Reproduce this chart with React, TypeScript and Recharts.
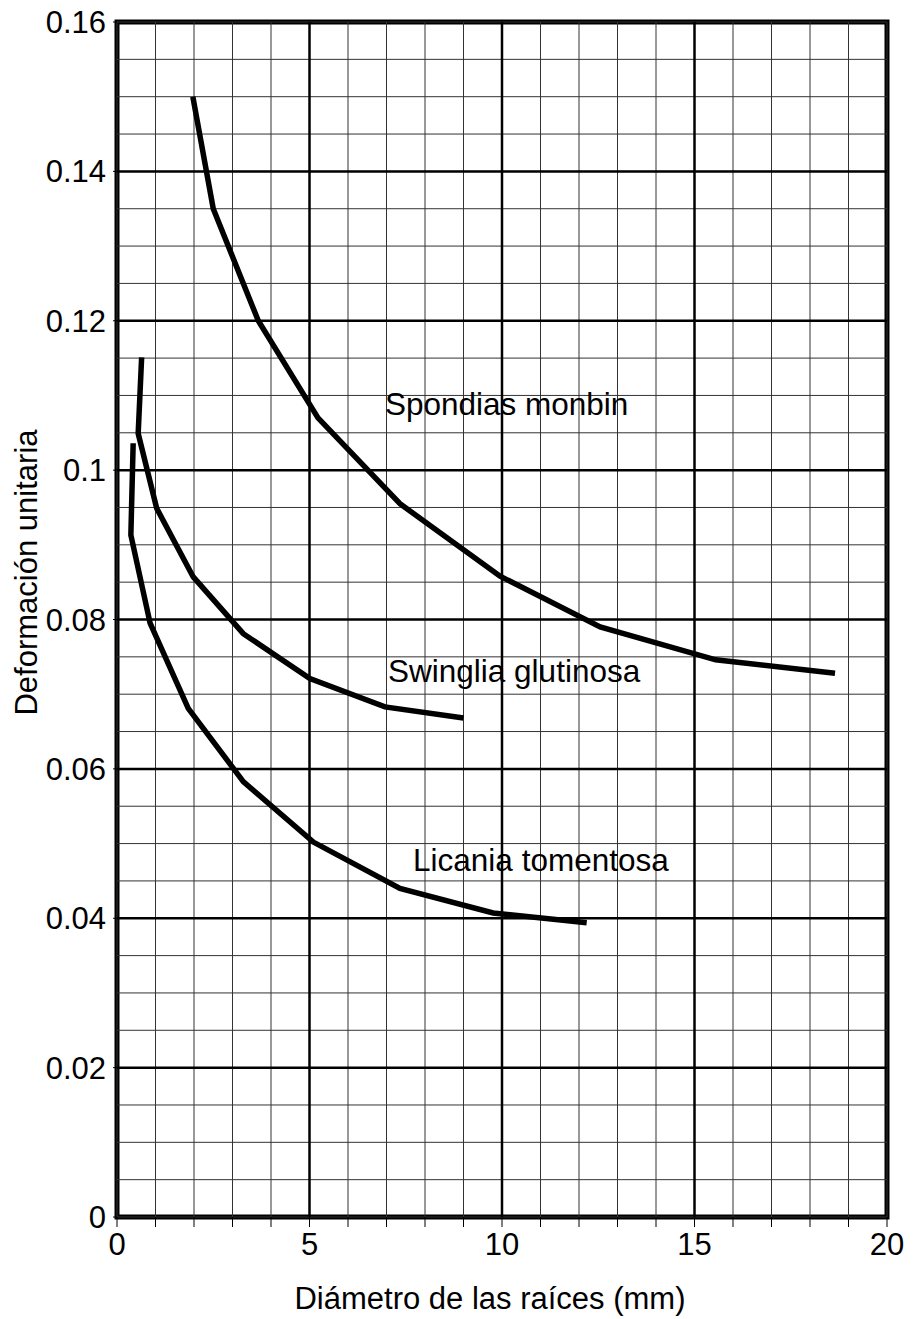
import { LineChart, Line, XAxis, YAxis, ReferenceLine, ReferenceArea, ReferenceDot, Label } from 'recharts'

// values (diameter in mm, unit strain)
const spondiasX = [1.97, 2.5, 3.67, 5.22, 7.35, 9.95, 12.55, 15.55, 18.65]
const spondiasY = [0.15, 0.135, 0.12, 0.107, 0.0955, 0.0858, 0.079, 0.0746, 0.0728]

const swingliaX = [0.64, 0.55, 1.03, 1.98, 3.28, 5.01, 6.96, 9.0]
const swingliaY = [0.1151, 0.1049, 0.0949, 0.0857, 0.0781, 0.0721, 0.0683, 0.0668]

const licaniaX = [0.42, 0.36, 0.86, 1.85, 3.28, 5.1, 7.35, 9.77, 12.2]
const licaniaY = [0.1036, 0.0913, 0.0795, 0.0681, 0.0583, 0.0502, 0.044, 0.0407, 0.0394]

const seriesNames = ['Spondias monbin', 'Swinglia glutinosa', 'Licania tomentosa']
const seriesLabelX = [6.96, 7.04, 7.69]
const seriesLabelY = [0.1074, 0.0716, 0.0463]

const xLabelTicks = [0, 5, 10, 15, 20]
const xTickLabels = ['0', '5', '10', '15', '20']
const yTicks = [0, 0.02, 0.04, 0.06, 0.08, 0.1, 0.12, 0.14, 0.16]
const yTickLabels = ['0', '0.02', '0.04', '0.06', '0.08', '0.1', '0.12', '0.14', '0.16']

const xTitle = 'Diámetro de las raíces (mm)'
const yTitle = 'Deformación unitaria'

// grid positions (graph paper: 1 mm and 0.005 minor, 5 mm and 0.02 major)
const xMinor = Array.from({ length: 21 }, (_, i) => i)
const xMajor = [5, 10, 15]
const yMinor = Array.from({ length: 33 }, (_, i) => +(i * 0.005).toFixed(3))
const yMajor = yTicks.slice(1, -1)

const toPoints = (xs: number[], ys: number[]) => xs.map((x, i) => ({ x, y: ys[i] }))
const series = [
  toPoints(spondiasX, spondiasY),
  toPoints(swingliaX, swingliaY),
  toPoints(licaniaX, licaniaY),
]

const FONT = '"Liberation Sans", Arial, sans-serif'

const YTitle = ({ viewBox }: any) => {
  const cx = viewBox.x + 26
  const cy = viewBox.y + viewBox.height / 2 - 47
  return (
    <text x={cx} y={cy} transform={`rotate(-90 ${cx} ${cy})`} textAnchor="middle" dominantBaseline="central"
      fontSize={31} fontFamily={FONT} fill="#000">
      {yTitle}
    </text>
  )
}

const XTitle = ({ viewBox }: any) => (
  <text x={viewBox.x + viewBox.width / 2 - 12} y={viewBox.y + 92} textAnchor="middle"
    fontSize={31} fontFamily={FONT} fill="#000">
    {xTitle}
  </text>
)

const seriesLabel = (name: string) => ({ viewBox }: any) => (
  <text x={viewBox.x} y={viewBox.y} textAnchor="start" fontSize={31.5} fontFamily={FONT} fill="#000">
    {name}
  </text>
)

export default function App() {
  return (
    <div style={{ position: 'absolute', left: 0, top: 0, width: 918, height: 1319, background: '#fff' }}>
      <LineChart width={918} height={1319} margin={{ top: 22, right: 31, bottom: 0, left: 0 }} style={{ fontFamily: FONT }}>
        <XAxis
          type="number"
          dataKey="x"
          domain={[0, 20]}
          ticks={xMinor}
          interval={0}
          height={102}
          axisLine={false}
          tickSize={10}
          tickMargin={6}
          tickLine={{ stroke: '#000', strokeWidth: 1 }}
          tick={{ fontSize: 31, fill: '#000', fontFamily: FONT }}
          tickFormatter={(v: number) => {
            const i = xLabelTicks.indexOf(v)
            return i >= 0 ? xTickLabels[i] : ''
          }}
          label={<Label content={XTitle} />}
        />
        <YAxis
          type="number"
          dataKey="y"
          domain={[0, 0.16]}
          ticks={yTicks}
          interval={0}
          width={117}
          axisLine={false}
          tickSize={4}
          tickMargin={7}
          tickLine={{ stroke: '#000', strokeWidth: 1 }}
          tick={{ fontSize: 31, fill: '#000', fontFamily: FONT }}
          tickFormatter={(v: number) => yTickLabels[yTicks.indexOf(v)] ?? ''}
          label={<Label content={YTitle} />}
        />

        {xMinor.map((v) => (
          <ReferenceLine key={`xm${v}`} x={v} stroke="#333" strokeWidth={1} />
        ))}
        {yMinor.map((v) => (
          <ReferenceLine key={`ym${v}`} y={v} stroke="#333" strokeWidth={1} />
        ))}
        {xMajor.map((v) => (
          <ReferenceLine key={`xM${v}`} x={v} stroke="#000" strokeWidth={2.5} />
        ))}
        {yMajor.map((v) => (
          <ReferenceLine key={`yM${v}`} y={v} stroke="#000" strokeWidth={2.5} />
        ))}
        <ReferenceArea x1={0} x2={20} y1={0} y2={0.16} fill="none" stroke="#000" strokeWidth={5} ifOverflow="visible" />

        {series.map((d, i) => (
          <Line
            key={seriesNames[i]}
            data={d}
            dataKey="y"
            type="linear"
            stroke="#000"
            strokeWidth={5.5}
            dot={false}
            activeDot={false}
            isAnimationActive={false}
          />
        ))}

        {seriesNames.map((name, i) => (
          <ReferenceDot
            key={name}
            x={seriesLabelX[i]}
            y={seriesLabelY[i]}
            r={0}
            fill="none"
            stroke="none"
            label={<Label content={seriesLabel(name)} />}
          />
        ))}
      </LineChart>
    </div>
  )
}
